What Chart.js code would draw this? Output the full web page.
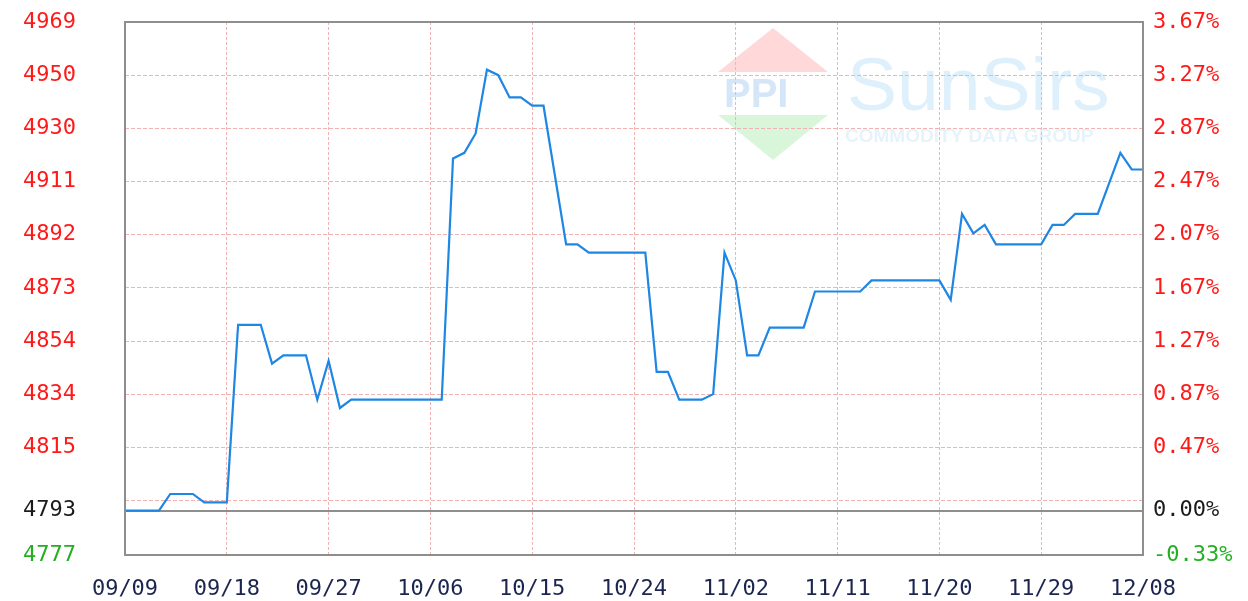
<!DOCTYPE html>
<html>
<head>
<meta charset="utf-8">
<script src="https://cdn.jsdelivr.net/npm/chart.js@4.4.0/dist/chart.umd.min.js"></script>
<style>
  html, body { margin: 0; padding: 0; background: #fff; }
  #wrap { width: 1248px; height: 601px; position: relative; }
</style>
</head>
<body>
<div id="wrap"><canvas id="myChart"></canvas></div>
<script>
// daily prices from 09/09 to 12/08
const prices = [
  4793, 4793, 4793, 4793, 4799, 4799, 4799, 4796, 4796, 4796,
  4860, 4860, 4860, 4846, 4849, 4849, 4849, 4833, 4847, 4830,
  4833, 4833, 4833, 4833, 4833, 4833, 4833, 4833, 4833, 4920,
  4922, 4929, 4952, 4950, 4942, 4942, 4939, 4939, 4914, 4889,
  4889, 4886, 4886, 4886, 4886, 4886, 4886, 4843, 4843, 4833,
  4833, 4833, 4835, 4886, 4876, 4849, 4849, 4859, 4859, 4859,
  4859, 4872, 4872, 4872, 4872, 4872, 4876, 4876, 4876, 4876,
  4876, 4876, 4876, 4869, 4900, 4893, 4896, 4889, 4889, 4889,
  4889, 4889, 4896, 4896, 4900, 4900, 4900, 4911, 4922, 4916,
  4916
];
const baseValue = 4793;
const yMin = 4777;
const yMax = 4969.18;
const yTicks = [4969.18, 4950.01, 4930.84, 4911.67, 4892.49, 4873.32, 4854.15, 4834.98, 4815.81, 4796.64, 4793, 4777];
const leftLabels = ['4969', '4950', '4930', '4911', '4892', '4873', '4854', '4834', '4815', '', '4793', '4777'];
const rightLabels = ['3.67%', '3.27%', '2.87%', '2.47%', '2.07%', '1.67%', '1.27%', '0.87%', '0.47%', '', '0.00%', '-0.33%'];
const labelStep = 9;

// one category per day
const days = [];
for (let i = 0; i < prices.length; i++) {
  const d = new Date(2023, 8, 9 + i);
  days.push(String(d.getMonth() + 1).padStart(2, '0') + '/' + String(d.getDate()).padStart(2, '0'));
}

const pink = '#f2b2b2';
const frameGray = '#8e8e8e';

function tickColor(ctx) {
  const v = yTicks[ctx.index];
  if (v === baseValue) return '#1a1a1a';
  return v > baseValue ? '#ff1a1a' : '#22b022';
}

// keep tick padding from pushing the plot area down
function fixY(width) {
  return (s) => { s.width = width; s.paddingTop = 10; s.paddingBottom = 10; };
}

const decor = {
  id: 'decor',
  beforeDraw(chart) {
    const c = chart.ctx;
    c.save();
    // logo diamond
    c.fillStyle = 'rgba(255,170,170,0.45)';
    c.beginPath(); c.moveTo(773, 28); c.lineTo(718, 72); c.lineTo(828, 72); c.closePath(); c.fill();
    c.fillStyle = 'rgba(170,235,175,0.45)';
    c.beginPath(); c.moveTo(718, 115); c.lineTo(828, 115); c.lineTo(773, 160); c.closePath(); c.fill();
    c.fillStyle = 'rgba(160,200,240,0.45)';
    c.font = 'bold 40px "Liberation Sans"';
    c.textBaseline = 'middle';
    c.fillText('PPI', 724, 96, 104);
    // brand text
    c.fillStyle = 'rgba(200,230,248,0.6)';
    c.font = '75px "Liberation Sans"';
    c.textBaseline = 'alphabetic';
    c.fillText('SunSirs', 847, 110);
    c.fillStyle = 'rgba(215,235,248,0.6)';
    c.font = 'bold 19px "Liberation Sans"';
    c.fillText('COMMODITY DATA GROUP', 845, 142, 265);
    c.restore();
  },
  afterDraw(chart) {
    const a = chart.chartArea;
    const c = chart.ctx;
    c.save();
    c.strokeStyle = frameGray;
    c.lineWidth = 2;
    c.strokeRect(a.left, a.top, a.right - a.left, a.bottom - a.top);
    c.restore();
  }
};

const ctx = document.getElementById('myChart').getContext('2d');
const myChart = new Chart(ctx, {
  type: 'line',
  data: {
    labels: days,
    datasets: [{
      data: prices,
      borderColor: '#1e86e3',
      borderWidth: 2.2,
      pointRadius: 0,
      tension: 0,
      yAxisID: 'y'
    }]
  },
  plugins: [decor],
  options: {
    responsive: true,
    maintainAspectRatio: false,
    animation: false,
    layout: { padding: { top: 22, left: 0, right: 0, bottom: 0 } },
    plugins: {
      legend: { display: false },
      tooltip: { enabled: false }
    },
    scales: {
      x: {
        type: 'category',
        offset: false,
        afterFit: (s) => { s.height = 46; },
        grid: {
          offset: false,
          drawTicks: false,
          lineWidth: 1,
          color: (c) => (c.index % labelStep === 0 ? pink : 'rgba(0,0,0,0)')
        },
        border: { display: false, dash: [3, 2] },
        ticks: {
          autoSkip: false,
          maxRotation: 0,
          minRotation: 0,
          padding: 21,
          color: '#1b2550',
          font: { family: '"DejaVu Sans Mono"', size: 22 },
          callback: (v, i) => (i % labelStep === 0 ? days[i] : '')
        }
      },
      y: {
        position: 'left',
        min: yMin,
        max: yMax,
        afterFit: fixY(125),
        afterBuildTicks: (s) => { s.ticks = yTicks.map(v => ({ value: v })); },
        grid: {
          drawTicks: false,
          color: (c) => (c.tick && c.tick.value === baseValue ? frameGray : pink),
          lineWidth: (c) => (c.tick && c.tick.value === baseValue ? 2 : 1)
        },
        border: {
          display: false,
          dash: (c) => (c.tick && c.tick.value === baseValue ? [] : [4, 2])
        },
        ticks: {
          autoSkip: false,
          padding: 49,
          color: tickColor,
          font: { family: '"DejaVu Sans Mono"', size: 22 },
          callback: (v, i) => leftLabels[i]
        }
      },
      y2: {
        position: 'right',
        min: yMin,
        max: yMax,
        afterFit: fixY(105),
        afterBuildTicks: (s) => { s.ticks = yTicks.map(v => ({ value: v })); },
        grid: { display: false, drawTicks: false },
        border: { display: false },
        ticks: {
          autoSkip: false,
          padding: 10,
          color: tickColor,
          font: { family: '"DejaVu Sans Mono"', size: 22 },
          callback: (v, i) => rightLabels[i]
        }
      }
    }
  }
});
</script>
</body>
</html>
